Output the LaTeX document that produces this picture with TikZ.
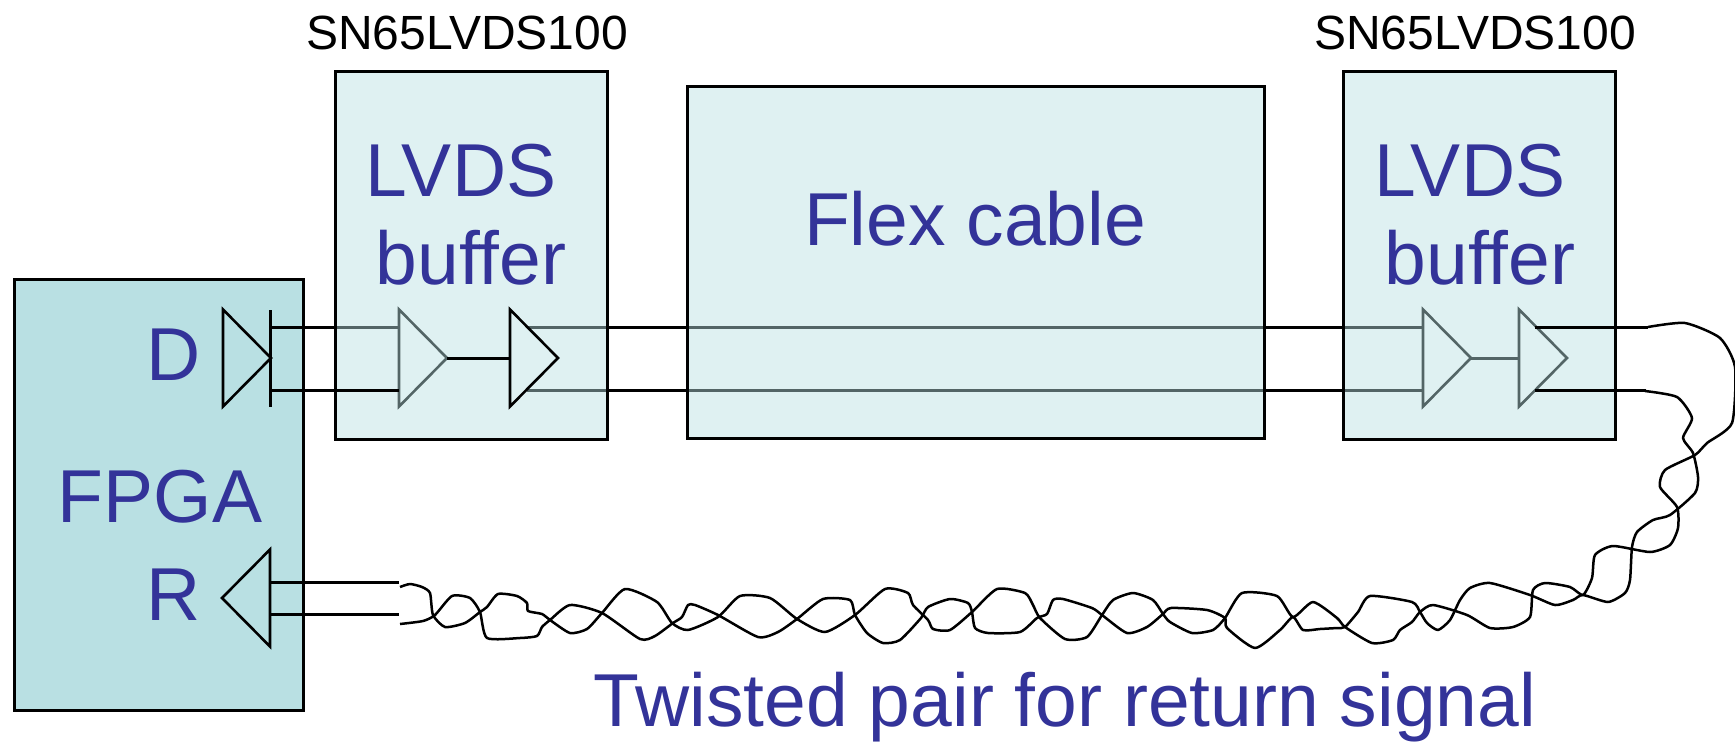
\documentclass[tikz,border=0pt]{standalone}
\usepackage{fontspec}
\setmainfont{Liberation Sans}
\usetikzlibrary{shapes.geometric}
\definecolor{boxteal}{HTML}{B9E0E3}
\definecolor{labelblue}{HTML}{333399}
\tikzset{
    lvds/.style={
        x=1pt,y=-1pt,
        fpgabox/.append style={draw,line width=3pt,rectangle,inner sep=0pt,fill=boxteal},
        block/.append style={draw,line width=3pt,rectangle,inner sep=0pt,fill=boxteal,fill opacity=.45},
        amp/.append style={draw,line width=2.6pt,isosceles triangle,isosceles triangle stretches,inner sep=0pt,outer sep=0pt,minimum width=97pt,minimum height=48pt,anchor=lower side},
        bigtext/.append style={text=labelblue,font=\fontsize{75}{82}\selectfont,inner sep=0pt},
        parttext/.append style={text=black,font=\fontsize{48}{54}\selectfont,inner sep=0pt},
        wire/.append style={line width=3pt},
        twist/.append style={line width=2.5pt,line join=round}
    }
}
\begin{document}
\begin{tikzpicture}[lvds]
    \useasboundingbox (0,0) rectangle (1735,744);

    \node[fpgabox,minimum width=289pt,minimum height=431pt] (fpga) at (158.5,494.5) {};

    \coordinate (dtop) at (270,327);
    \coordinate (dbot) at (270,390);
    \coordinate (rtop) at (270,582);
    \coordinate (rbot) at (270,614);
    \coordinate (rend) at (399,582);
    \coordinate (rendb) at (399,614);
    \coordinate (btop) at (527,327);
    \coordinate (bbot) at (527,390);
    \coordinate (otop) at (1648,327);
    \coordinate (obot) at (1646,390);
    \coordinate (ltop) at (1535,327);
    \coordinate (lbot) at (1535,390);

    \node[amp] (in1) at (399,358) {};
    \node[amp] (in2) at (1423,358) {};
    \node[amp] (out2) at (1519,358) {};
    \draw[wire] (dtop) -- (dtop -| in1.lower side);
    \draw[wire] (btop) -- (btop -| in2.lower side);
    \draw[wire] (bbot) -- (bbot -| in2.lower side);
    \draw[wire] (in2.apex) -- (out2.lower side);

    \node[block,minimum width=272pt,minimum height=368pt] (buf1) at (471,255) {};
    \node[block,minimum width=577pt,minimum height=352pt] (flex) at (975.5,262) {};
    \node[block,minimum width=272pt,minimum height=368pt] (buf2) at (1479,255) {};

    \node[amp] (out1) at (510,358) {};
    \node[amp] (drv) at (223,358) {};
    \node[amp,shape border rotate=180] (rcv) at (270,598) {};
    \draw[wire] (270,310) -- (270,407);
    \draw[wire] (dbot) -- (dbot -| in1.lower side);
    \draw[wire] (in1.apex) -- (out1.lower side);
    \draw[wire] (ltop) -- (otop);
    \draw[wire] (lbot) -- (obot);
    \draw[wire] (rtop) -- (rend);
    \draw[wire] (rbot) -- (rendb);

    \draw[twist] plot[smooth,tension=.38] coordinates {(400,587) (410,584) (422,587) (430,593) (433,615) (445,627) (465,623) (480,612) (487,607) (498,594) (517,596) (527,603) (528,611) (542,614) (550,620) (570,633) (587,629) (602,613) (625,589) (657,602) (672,623) (688,630) (718,617) (740,596) (770,598) (797,619) (825,632) (855,615) (885,589) (908,593) (913,605) (928,620) (933,629) (950,630) (972,612) (997,589) (1025,593) (1033,605) (1040,618) (1065,639) (1087,637) (1102,615) (1113,600) (1133,593) (1153,600) (1163,614) (1170,622) (1192,633) (1213,630) (1225,618) (1242,593) (1277,596) (1293,617) (1313,602) (1337,618) (1345,627) (1372,643) (1393,640) (1400,630) (1412,622) (1420,612) (1433,605) (1467,615) (1490,628) (1513,627) (1530,617) (1533,590) (1545,583) (1570,587) (1583,595) (1592,578) (1595,555) (1613,546) (1650,552) (1670,545) (1678,528) (1677,507) (1660,487) (1665,470) (1695,455) (1707,443) (1732,423) (1735,367) (1720,338) (1685,323) (1648,327)};
    \draw[twist] plot[smooth,tension=.38] coordinates {(400,624) (423,621) (435,615) (452,596) (470,598) (480,612) (487,638) (520,638) (537,636) (542,627) (550,620) (570,605) (602,613) (640,639) (655,636) (673,623) (682,617) (688,605) (695,605) (718,615) (758,637) (778,632) (797,619) (823,599) (850,600) (855,615) (867,633) (883,643) (900,640) (921,618) (928,607) (950,599) (968,603) (972,612) (975,628) (988,633) (1020,632) (1037,618) (1047,614) (1053,600) (1063,599) (1092,608) (1102,615) (1127,633) (1147,627) (1163,614) (1171,608) (1207,610) (1225,618) (1227,628) (1255,648) (1280,630) (1293,617) (1303,630) (1320,629) (1337,628) (1345,627) (1358,612) (1370,596) (1412,602) (1420,612) (1427,623) (1438,630) (1450,620) (1460,600) (1470,588) (1490,583) (1530,595) (1555,605) (1573,600) (1583,595) (1608,602) (1625,593) (1630,580) (1632,547) (1637,532) (1653,520) (1670,515) (1695,493) (1698,477) (1693,453) (1683,438) (1692,418) (1677,397) (1645,391)};

    \node[parttext] (part1) at (467,33) {SN65LVDS100};
    \node[parttext] (part2) at (1475,33) {SN65LVDS100};
    \node[bigtext] (lv1) at (461,171) {LVDS};
    \node[bigtext] (bf1) at (471,258) {buffer};
    \node[bigtext] (fc) at (975,219) {Flex cable};
    \node[bigtext] (lv2) at (1470,171) {LVDS};
    \node[bigtext] (bf2) at (1480,258) {buffer};
    \node[bigtext] (dl) at (174,355) {D};
    \node[bigtext] (fl) at (160,497) {FPGA};
    \node[bigtext] (rl) at (174,595) {R};
    \node[bigtext] (tp) at (1065,707) {Twisted pair for return signal};
\end{tikzpicture}
\end{document}
